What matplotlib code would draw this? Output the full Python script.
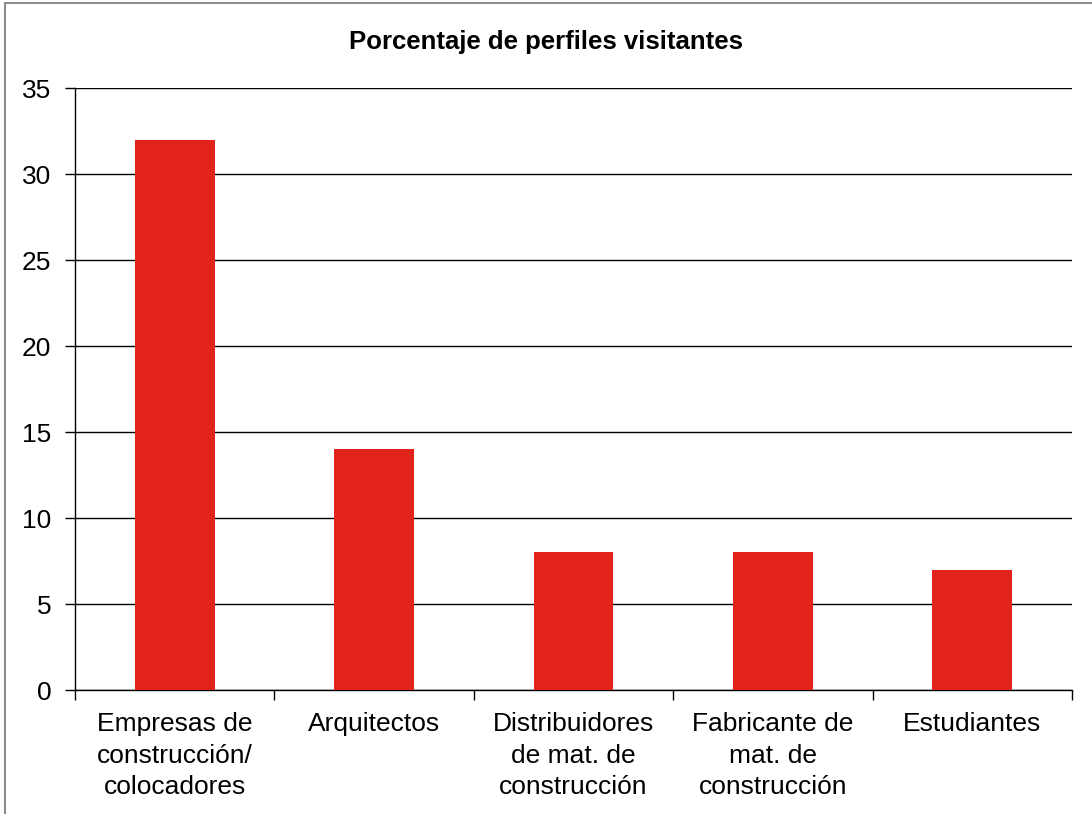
import matplotlib.pyplot as plt
import numpy as np
from matplotlib.patches import Rectangle

categorias = ['Empresas de\nconstrucción/\ncolocadores', 'Arquitectos',
              'Distribuidores\nde mat. de\nconstrucción', 'Fabricante de\nmat. de\nconstrucción',
              'Estudiantes']
porcentajes = [32, 14, 8, 8, 7]

plt.rcParams['font.family'] = ['Liberation Sans', 'DejaVu Sans']

fig = plt.figure(figsize=(10.92, 8.14), dpi=100)
ax = fig.add_axes([75/1092, 1-690/814, (1072-75)/1092, (690-88)/814])

# borde gris del grafico (solo izquierda y arriba visibles)
fig.patches.append(Rectangle((5/1092, -0.1), 1.2, 1-3/814+0.1, transform=fig.transFigure,
                             fill=False, edgecolor='#8c8c8c', linewidth=1.5))

x = np.arange(len(categorias))
ax.bar(x, porcentajes, width=0.4, color='#E2231A', zorder=3)

ax.set_xlim(-0.5, len(categorias) - 0.5)
ax.set_ylim(0, 35)
ax.set_yticks(range(0, 36, 5))
ax.yaxis.grid(True, color='black', linewidth=1)
ax.set_axisbelow(True)

for s in ['top', 'right']:
    ax.spines[s].set_visible(False)
ax.spines['left'].set_linewidth(1)
ax.spines['bottom'].set_linewidth(1)

# ticks en los limites de categoria, etiquetas en el centro
ax.set_xticks(np.arange(len(categorias) + 1) - 0.5)
ax.set_xticklabels([])
ax.set_xticks(x, minor=True)
ax.set_xticklabels(categorias, minor=True, fontsize=19, linespacing=1.4, va='top')
ax.tick_params(axis='x', which='minor', length=0, pad=16)
ax.tick_params(axis='x', which='major', length=7, width=1)
ax.tick_params(axis='y', length=7, width=1, labelsize=19, pad=10)

fig.text(546/1092, 1-42/814, 'Porcentaje de perfiles visitantes', ha='center', va='center',
         fontsize=18.5, fontweight='bold')

fig.savefig('out.png', dpi=100)
